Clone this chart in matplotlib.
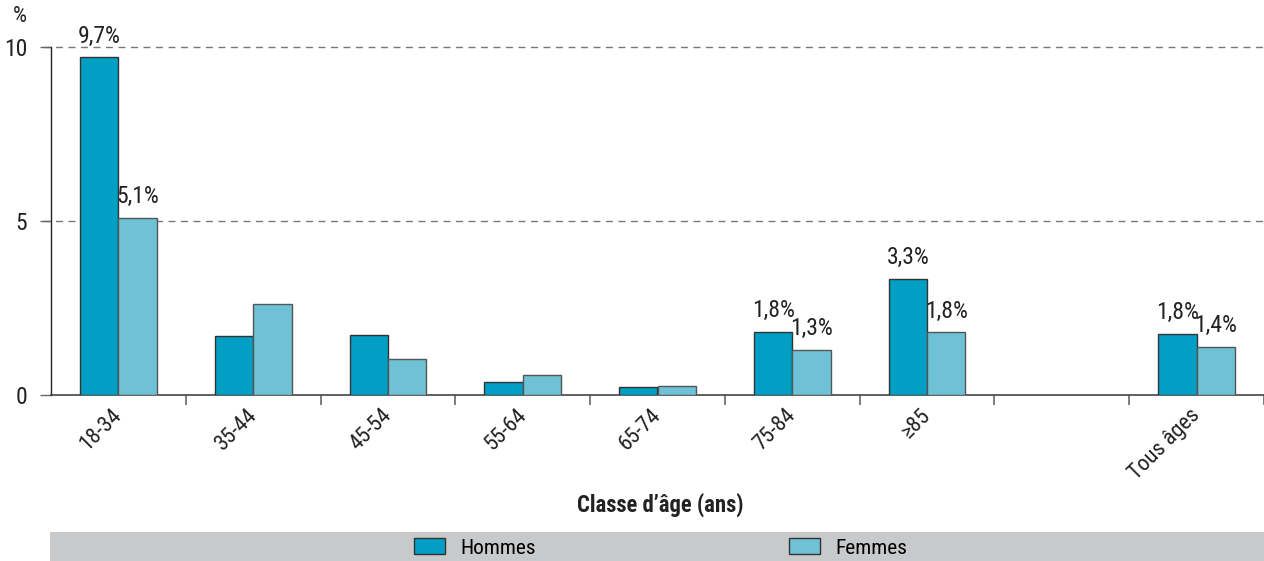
import matplotlib
matplotlib.use("Agg")
import matplotlib.pyplot as plt
from matplotlib.patches import Rectangle, Patch
from matplotlib import font_manager
import matplotlib.transforms as mtrans
import numpy as np

categories = ["18-34", "35-44", "45-54", "55-64", "65-74", "75-84", "≥85", "", "Tous âges"]
hommes = [9.7, 1.70, 1.71, 0.38, 0.24, 1.81, 3.33, np.nan, 1.76]
femmes = [5.1, 2.62, 1.03, 0.58, 0.27, 1.30, 1.80, np.nan, 1.39]
labels_h = ["9,7%", "", "", "", "", "1,8%", "3,3%", "", "1,8%"]
labels_f = ["5,1%", "", "", "", "", "1,3%", "1,8%", "", "1,4%"]
series_names = ["Hommes", "Femmes"]
yticks = [0, 5, 10]

c_h = "#009FC3"
c_f = "#6FC2D5"
edge = "#333333"

names = {f.name for f in font_manager.fontManager.ttflist}
cands = ["Liberation Sans Narrow", "Roboto Condensed", "Arial Narrow", "Liberation Sans"]
main = next((c for c in cands if c in names), "DejaVu Sans")
plt.rcParams['font.family'] = [main, 'DejaVu Sans']

W, H = 1264, 561
fig = plt.figure(figsize=(W / 100, H / 100), dpi=100)
ax = fig.add_axes([51 / W, 166 / H, (W - 51) / W, 348 / H])

x = np.arange(len(categories))
bw = 0.285
ax.bar(x - bw / 2, hommes, bw, color=c_h, edgecolor=edge, linewidth=1.0, zorder=3)
ax.bar(x + bw / 2, femmes, bw, color=c_f, edgecolor="#555555", linewidth=1.0, zorder=3)

fs_val = 17
for i in range(len(categories)):
    if labels_h[i]:
        ax.text(x[i] - bw / 2, hommes[i] + 0.28, labels_h[i], ha="center", va="bottom",
                fontsize=fs_val, color="#222222", clip_on=False)
    if labels_f[i]:
        ax.text(x[i] + bw / 2, femmes[i] + 0.28, labels_f[i], ha="center", va="bottom",
                fontsize=fs_val, color="#222222", clip_on=False)

ax.set_xlim(-0.5, -0.5 + (W - 51) / 135.5)
ax.set_ylim(0, 10)

for s in ["top", "right"]:
    ax.spines[s].set_visible(False)
ax.spines["left"].set_color("#222222")
ax.spines["bottom"].set_color("#444444")
ax.spines["left"].set_linewidth(1.0)
ax.spines["bottom"].set_linewidth(1.2)

ax.set_yticks(yticks)
ax.set_yticklabels([str(v) for v in yticks], fontsize=17, color="#222222")
ax.tick_params(axis="y", length=8, color="#666666", width=1, pad=9)
for yv in [5, 10]:
    ax.axhline(yv, xmin=-8 / (W - 51), xmax=1, color="#777777", lw=1, ls=(0, (5, 4)),
               zorder=1, clip_on=False)

ax.set_xticks(x)
ax.set_xticklabels(categories, rotation=45, ha="right", rotation_mode="anchor",
                   fontsize=16, color="#222222")
ax.tick_params(axis="x", which="major", length=0, pad=7)
off = mtrans.ScaledTranslation(-7 / 100, 0 / 100, fig.dpi_scale_trans)
for lab in ax.get_xticklabels():
    lab.set_transform(lab.get_transform() + off)
ax.set_xticks(np.arange(len(categories)) + 0.5, minor=True)
ax.tick_params(axis="x", which="minor", length=7, color="#666666", width=1.2)

fig.text(20 / W, 1 - 17 / H, "%", fontsize=16, color="#222222", ha="center", va="center")
fig.text(660 / W, 1 - 505 / H, "Classe d’âge (ans)", fontsize=16.3, fontweight="bold",
         color="#222222", ha="center", va="center")

fig.patches.append(Rectangle((50 / W, 0), (W - 50) / W, 29 / H, transform=fig.transFigure,
                             facecolor="#C8C9CB", edgecolor="none", zorder=0))
colors = [c_h, c_f]
starts = [414, 789]
for name, col, sx in zip(series_names, colors, starts):
    h = Patch(facecolor=col, edgecolor=edge, linewidth=1, label=name)
    fig.legend(handles=[h], loc="center left", bbox_to_anchor=(sx / W, 13 / H),
               frameon=False, fontsize=15.4, handlelength=1.45, handleheight=0.75,
               handletextpad=0.7, borderpad=0, borderaxespad=0)

fig.savefig("out.png", dpi=100)
